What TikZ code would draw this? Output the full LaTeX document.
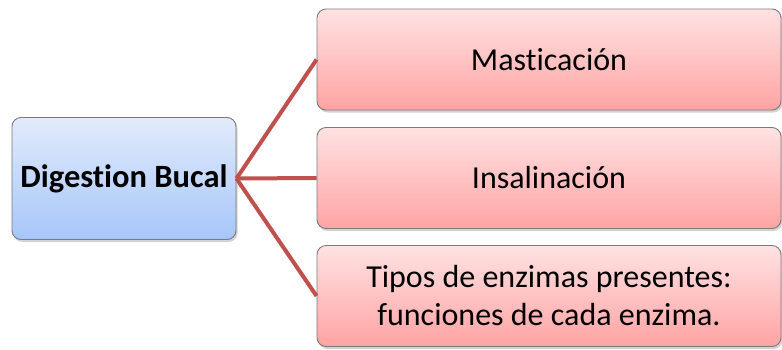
\documentclass[tikz,border=0pt]{standalone}
\usepackage{fontspec}
\setmainfont{Carlito}[Ligatures=NoCommon]
\usetikzlibrary{shadows}
\definecolor{btop}{HTML}{E2EBFC}
\definecolor{bbot}{HTML}{A6C6F9}
\definecolor{rtop}{HTML}{FFE2E3}
\definecolor{rbot}{HTML}{FFA3A3}
\definecolor{edgec}{HTML}{7A7A7A}
\definecolor{linkc}{HTML}{C0504D}
\tikzset{
  box/.style={draw=edgec, line width=0.9pt, rounded corners=9pt, inner sep=0pt, align=center,
    drop shadow={shadow xshift=1.5pt, shadow yshift=-2.5pt, opacity=0.35}},
  bluebox/.style={box, top color=btop, bottom color=bbot, minimum width=224pt, minimum height=122pt, font=\fontsize{32.5}{38}\selectfont\bfseries},
  redbox/.style={box, top color=rtop, bottom color=rbot, minimum width=464pt, minimum height=101pt, font=\fontsize{32}{38}\selectfont},
  link/.style={draw=linkc, line width=4pt}
}
\begin{document}
\begin{tikzpicture}[x=1pt,y=-1pt]
\useasboundingbox (0,0) rectangle (782,349);
\node[bluebox] (root) at (124,178.5) {Digestion Bucal};
\node[redbox] (a) at (549,59.5) {Masticación};
\node[redbox] (b) at (549,178) {Insalinación};
\node[redbox] (c) at (549,296) {Tipos de enzimas presentes:\\funciones de cada enzima.};
\draw[link] (root.east) -- (a.west);
\draw[link] (root.east) -- (b.west);
\draw[link] (root.east) -- (c.west);
\end{tikzpicture}
\end{document}
